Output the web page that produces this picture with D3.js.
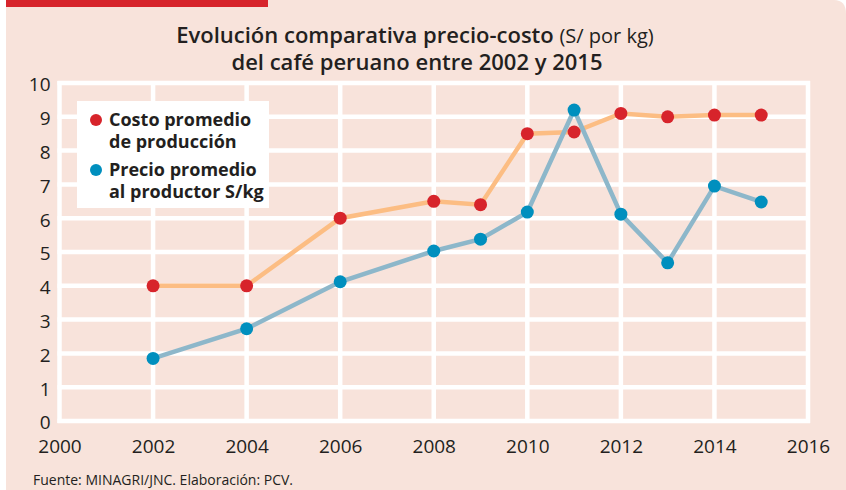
<!DOCTYPE html>
<meta charset="utf-8">
<style>
body { margin: 0; background: #fff; }
svg { display: block; font-family: "Open Sans", sans-serif; }
.tick text { fill: #231f20; font-size: 19px; }
</style>
<body>
<script src="https://d3js.org/d3.v7.min.js"></script>
<script>
// data
var years  = [2002, 2004, 2006, 2008, 2009, 2010, 2011, 2012, 2013, 2014, 2015];
var costo  = [4.0, 4.0, 6.0, 6.5, 6.4, 8.5, 8.55, 9.1, 9.0, 9.05, 9.05];
var precio = [1.85, 2.73, 4.12, 5.03, 5.38, 6.18, 9.2, 6.12, 4.68, 6.95, 6.48];
var xTicks = [2000, 2002, 2004, 2006, 2008, 2010, 2012, 2014, 2016];
var yTicks = [0, 1, 2, 3, 4, 5, 6, 7, 8, 9, 10];
var legendLabels = [["Costo promedio", "de producción"], ["Precio promedio", "al productor S/kg"]];

var W = 846, H = 490;
var margin = {top: 83, right: 38, bottom: 69, left: 59.5};

var svg = d3.select("body").append("svg")
    .attr("width", W)
    .attr("height", H);

// background panel with the rounded top-right corner
svg.append("path")
    .attr("d", "M6,0 H834 Q846,0 846,14 V490 H6 Z")
    .attr("fill", "#f8e3db");
svg.append("rect")
    .attr("x", 6).attr("y", 0)
    .attr("width", 262).attr("height", 7)
    .attr("fill", "#d7242b");

var x = d3.scaleLinear().domain([2000, 2016]).range([margin.left, W - margin.right]);
var y = d3.scaleLinear().domain([0, 10]).range([H - margin.bottom, margin.top]);

// white grid
var grid = svg.append("g").attr("stroke", "#fff").attr("stroke-width", 4.5);
grid.selectAll(".vg").data(xTicks).enter().append("line")
    .attr("x1", function(d) { return x(d); }).attr("x2", function(d) { return x(d); })
    .attr("y1", y(10) - 2).attr("y2", y(0) + 2);
grid.selectAll(".hg").data(yTicks).enter().append("line")
    .attr("y1", function(d) { return y(d); }).attr("y2", function(d) { return y(d); })
    .attr("x1", x(2000) - 2).attr("x2", x(2016) + 2);

// axes (labels only)
svg.append("g")
    .attr("transform", "translate(" + (x(2000) - 9) + ",0)")
    .call(d3.axisLeft(y).tickValues(yTicks).tickSize(0).tickPadding(0))
    .call(function(g) { g.select(".domain").remove(); })
    .selectAll("text").attr("dy", "0.42em");

svg.append("g")
    .attr("transform", "translate(0," + (y(0) + 16) + ")")
    .call(d3.axisBottom(x).tickValues(xTicks).tickFormat(d3.format("d")).tickSize(0).tickPadding(0))
    .call(function(g) { g.select(".domain").remove(); })
    .selectAll("text").attr("dy", "0.85em");

svg.selectAll(".tick text").attr("font-family", "Open Sans").attr("font-size", 19);

// lines
var line = function(vals) {
  return d3.line()
      .x(function(d, i) { return x(years[i]); })
      .y(function(d) { return y(d); })(vals);
};
svg.append("path").attr("d", line(costo))
    .attr("fill", "none").attr("stroke", "#fcbd83").attr("stroke-width", 4.5);
svg.append("path").attr("d", line(precio))
    .attr("fill", "none").attr("stroke", "#8db7ca").attr("stroke-width", 4.5);

svg.selectAll(".dc").data(costo).enter().append("circle")
    .attr("cx", function(d, i) { return x(years[i]); })
    .attr("cy", function(d) { return y(d); })
    .attr("r", 6.5).attr("fill", "#d7242b");
svg.selectAll(".dp").data(precio).enter().append("circle")
    .attr("cx", function(d, i) { return x(years[i]); })
    .attr("cy", function(d) { return y(d); })
    .attr("r", 6.5).attr("fill", "#008fbe");

// legend
svg.append("rect")
    .attr("x", 77).attr("y", 101).attr("width", 192).attr("height", 107)
    .attr("fill", "#fff");
var legColors = ["#d7242b", "#008fbe"];
legendLabels.forEach(function(lines, k) {
  var y0 = 126 + k * 50;
  svg.append("circle").attr("cx", 96).attr("cy", y0 - 6).attr("r", 6).attr("fill", legColors[k]);
  lines.forEach(function(t, j) {
    svg.append("text")
        .attr("x", 109).attr("y", y0 + j * 22)
        .attr("font-size", 18).attr("font-weight", 700)
        .attr("fill", "#231f20")
        .text(t);
  });
});

// title
var t1 = svg.append("text")
    .attr("x", 415).attr("y", 43)
    .attr("text-anchor", "middle")
    .attr("fill", "#231f20").attr("font-size", 22).attr("font-weight", 600);
t1.append("tspan").text("Evolución comparativa precio-costo ");
t1.append("tspan").attr("font-size", 20).attr("font-weight", 400).text("(S/ por kg)");
svg.append("text")
    .attr("x", 417).attr("y", 70)
    .attr("text-anchor", "middle")
    .attr("fill", "#231f20").attr("font-size", 22).attr("font-weight", 600)
    .text("del café peruano entre 2002 y 2015");

// source
svg.append("text")
    .attr("x", 33).attr("y", 485)
    .attr("fill", "#231f20").attr("font-size", 14)
    .text("Fuente: MINAGRI/JNC. Elaboración: PCV.");
</script>
</body>
